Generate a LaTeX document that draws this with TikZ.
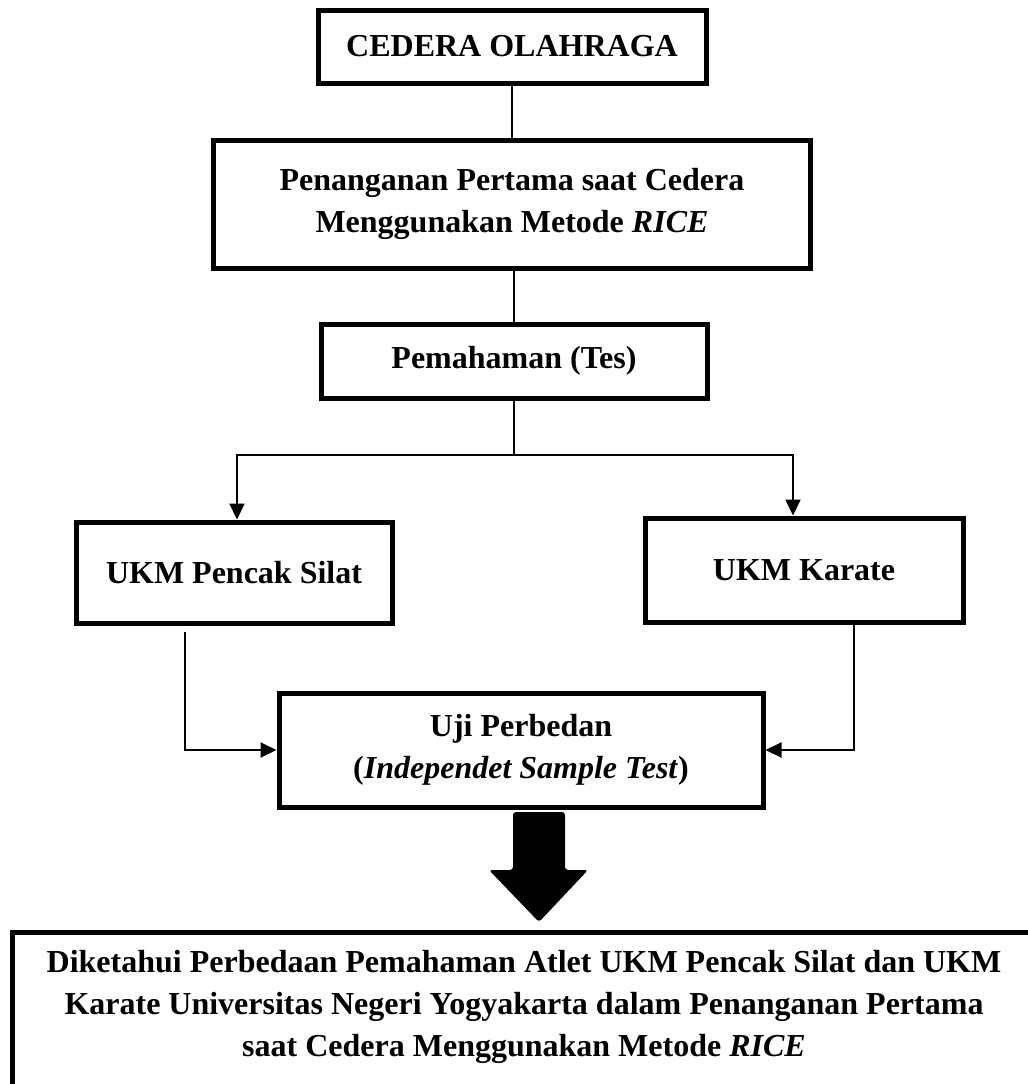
\documentclass[tikz,border=0pt]{standalone}
\usepackage{fontspec}
\setmainfont{Liberation Serif}
\usetikzlibrary{arrows.meta, positioning, calc}

\begin{document}
\begin{tikzpicture}[x=0.5pt, y=-0.5pt,
  box/.style={draw, line width=2.5pt, align=center, inner sep=0pt,
              font=\fontsize{16}{21}\selectfont\bfseries},
  link/.style={line width=1pt},
  flow/.style={link, -{Triangle[length=8pt, width=7.5pt]}}]

\clip (0,0) rectangle (1028,1084);

% --- Top chain ---
\node[box, minimum width=194pt, minimum height=36.5pt] (cedera-box) at (512,46.5) {CEDERA OLAHRAGA};
\node[box, minimum width=298.5pt, minimum height=64pt] (rice-box) at (512,204)
     {Penanganan Pertama saat Cedera\\Menggunakan Metode \textit{RICE}};
\node[box, minimum width=193pt, minimum height=37pt] (tes-box) at (514,361) {Pemahaman (Tes)};

\draw[link] (cedera-box.south) -- (rice-box.north);
\draw[link] (rice-box.south -| tes-box.north) -- (tes-box.north);
\draw[link] (tes-box.south) -- ++(0,54.5) coordinate (fork);

% --- Two groups ---
\node[box, minimum width=158pt, minimum height=50.5pt] (silat-box) at (234,572.5) {UKM Pencak Silat};
\node[box, minimum width=159pt, minimum height=52pt] (karate-box) at (804,570) {UKM Karate};

\draw[flow] (fork) -| ([xshift=1.5pt]silat-box.north);
\draw[flow] (fork) -| ([xshift=-5.5pt]karate-box.north);

% --- Test ---
\node[box, minimum width=242pt, minimum height=57pt] (uji-box) at (521,750)
     {Uji Perbedan\\(\textit{Independet Sample Test})};

\draw[flow] ([xshift=-24.5pt, yshift=-3pt]silat-box.south) |- (uji-box.west);
\draw[flow] ([xshift=25pt]karate-box.south) |- (uji-box.east);

% --- Result ---
\draw[line width=2.5pt] (12,1110) -- (12,932) -- (1036,932);
\node[align=center, font=\fontsize{16}{21}\selectfont\bfseries] (hasil-text) at (524,1007)
     {Diketahui Perbedaan Pemahaman Atlet UKM Pencak Silat dan UKM\\
      Karate Universitas Negeri Yogyakarta dalam Penanganan Pertama\\
      saat Cedera Menggunakan Metode \textit{RICE}};

% big arrow
\fill[rounded corners=1.5pt] (513,812) -- (565,812) -- (565,870) -- (588,870)
     -- (539,922) -- (489,870) -- (513,870) -- cycle;

\end{tikzpicture}
\end{document}
